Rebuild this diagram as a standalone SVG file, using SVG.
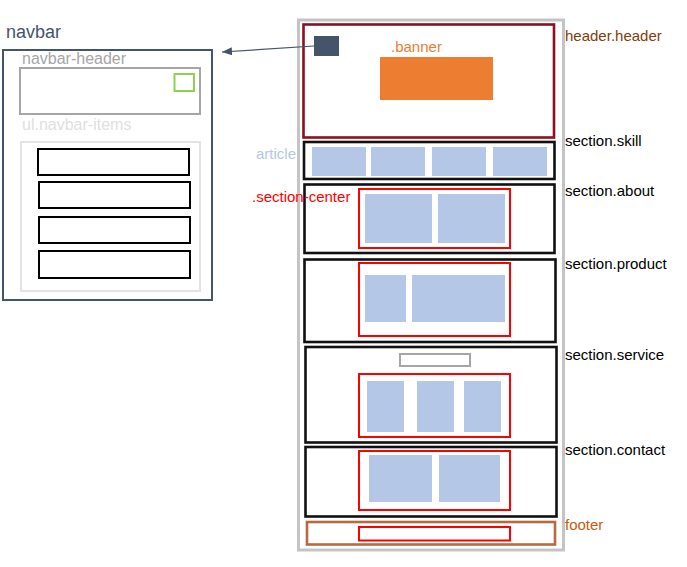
<svg xmlns="http://www.w3.org/2000/svg" width="687" height="567" viewBox="0 0 687 567">
  <style>
    text { font-family: "Liberation Sans", Arial, sans-serif; font-size: 15px; }
    .sub { font-size: 16px; }
    .lbl { fill: #000000; }
    .frame { fill: #ffffff; }
    .sec { fill: #ffffff; stroke: #111111; stroke-width: 2.6; }
    .center { fill: none; stroke: #ff0000; stroke-width: 2; }
    .blk { fill: #b4c7e7; }
    .item { fill: #ffffff; stroke: #000000; stroke-width: 2; }
  </style>
  <defs>
    <marker id="arrow" markerWidth="10" markerHeight="8" refX="10" refY="4" orient="auto" markerUnits="userSpaceOnUse">
      <path d="M0,0 L10,4 L0,8 Z" fill="#44546a"/>
    </marker>
  </defs>
  <rect width="687" height="567" fill="#ffffff"/>

  <!-- navbar overlay -->
  <g id="navbar">
    <text x="6" y="38" style="font-size:18px" fill="#44546a">navbar</text>
    <rect x="3" y="50" width="209" height="250" fill="#ffffff" stroke="#44546a" stroke-width="2"/>
    <g id="navbar-header">
      <text class="sub" x="22" y="64" fill="#a6a6a6">navbar-header</text>
      <rect x="20" y="68" width="180" height="46" fill="none" stroke="#a6a6a6" stroke-width="2"/>
      <rect x="174.5" y="74" width="19.5" height="17" fill="none" stroke="#92d050" stroke-width="2"/>
    </g>
    <g id="navbar-items">
      <text class="sub" x="22" y="130" fill="#e0e0e0">ul.navbar-items</text>
      <rect x="21" y="142" width="179" height="149" fill="none" stroke="#e3e3e3" stroke-width="2"/>
      <rect class="item" x="38" y="149" width="151" height="26"/>
      <rect class="item" x="39" y="182" width="151" height="26"/>
      <rect class="item" x="39" y="217" width="151" height="26"/>
      <rect class="item" x="39" y="251" width="151" height="27"/>
    </g>
  </g>

  <!-- page layout -->
  <g id="page">
    <rect class="frame" x="298.5" y="20" width="265" height="530" stroke="#c4c4c4" stroke-width="3"/>
  </g>

  <g id="header">
    <rect x="303.5" y="24.5" width="250.5" height="113" fill="#ffffff" stroke="#8b1020" stroke-width="2.6"/>
    <rect x="314" y="36" width="25" height="20" fill="#44546a"/>
    <text x="391" y="52" fill="#ed7d31">.banner</text>
    <rect x="380" y="57" width="113" height="43" fill="#ed7d31"/>
    <text x="565" y="41" fill="#843c0c">header.header</text>
  </g>

  <g id="skill">
    <rect class="sec" x="304" y="142" width="250.5" height="37"/>
    <rect class="blk" x="312" y="147" width="54" height="29"/>
    <rect class="blk" x="371" y="147" width="54" height="29"/>
    <rect class="blk" x="432" y="147" width="54" height="29"/>
    <rect class="blk" x="493" y="147" width="54" height="29"/>
    <text x="256" y="159" fill="#b4c7e7">article</text>
    <text class="lbl" x="565" y="146">section.skill</text>
  </g>

  <g id="about">
    <rect class="sec" x="304.5" y="184.5" width="250" height="68.5"/>
    <rect class="center" x="359" y="189" width="151" height="59"/>
    <rect class="blk" x="365" y="194" width="67" height="49"/>
    <rect class="blk" x="438" y="194" width="67" height="49"/>
    <text x="252" y="202" fill="#ff0000">.section-center</text>
    <text class="lbl" x="565" y="196">section.about</text>
  </g>

  <g id="product">
    <rect class="sec" x="304.5" y="259.5" width="251" height="82.5"/>
    <rect class="center" x="359" y="263" width="151" height="73"/>
    <rect class="blk" x="365" y="275" width="41" height="47"/>
    <rect class="blk" x="412" y="275" width="93" height="47"/>
    <text class="lbl" x="565" y="269">section.product</text>
  </g>

  <g id="service">
    <rect class="sec" x="305.5" y="347" width="251" height="95.5"/>
    <rect x="400" y="354" width="70" height="12" fill="none" stroke="#a6a6a6" stroke-width="2"/>
    <rect class="center" x="359" y="374" width="151" height="63"/>
    <rect class="blk" x="367" y="381" width="37" height="51"/>
    <rect class="blk" x="417" y="381" width="37" height="51"/>
    <rect class="blk" x="464" y="381" width="37" height="51"/>
    <text class="lbl" x="565" y="360">section.service</text>
  </g>

  <g id="contact">
    <rect class="sec" x="305.5" y="447" width="251" height="69.5"/>
    <rect class="center" x="359" y="451" width="151" height="59"/>
    <rect class="blk" x="369" y="455" width="63" height="47"/>
    <rect class="blk" x="439" y="455" width="61" height="47"/>
    <text class="lbl" x="565" y="455">section.contact</text>
  </g>

  <g id="footer">
    <rect x="307" y="522" width="248" height="22.5" fill="#ffffff" stroke="#b8693f" stroke-width="2.6"/>
    <rect class="center" x="359" y="527" width="151" height="13.5"/>
    <text x="565" y="530" fill="#c55a11">footer</text>
  </g>

  <!-- connectors -->
  <g id="connectors">
    <line x1="314" y1="46" x2="222" y2="52" stroke="#44546a" stroke-width="1.2" marker-end="url(#arrow)"/>
  </g>
</svg>
